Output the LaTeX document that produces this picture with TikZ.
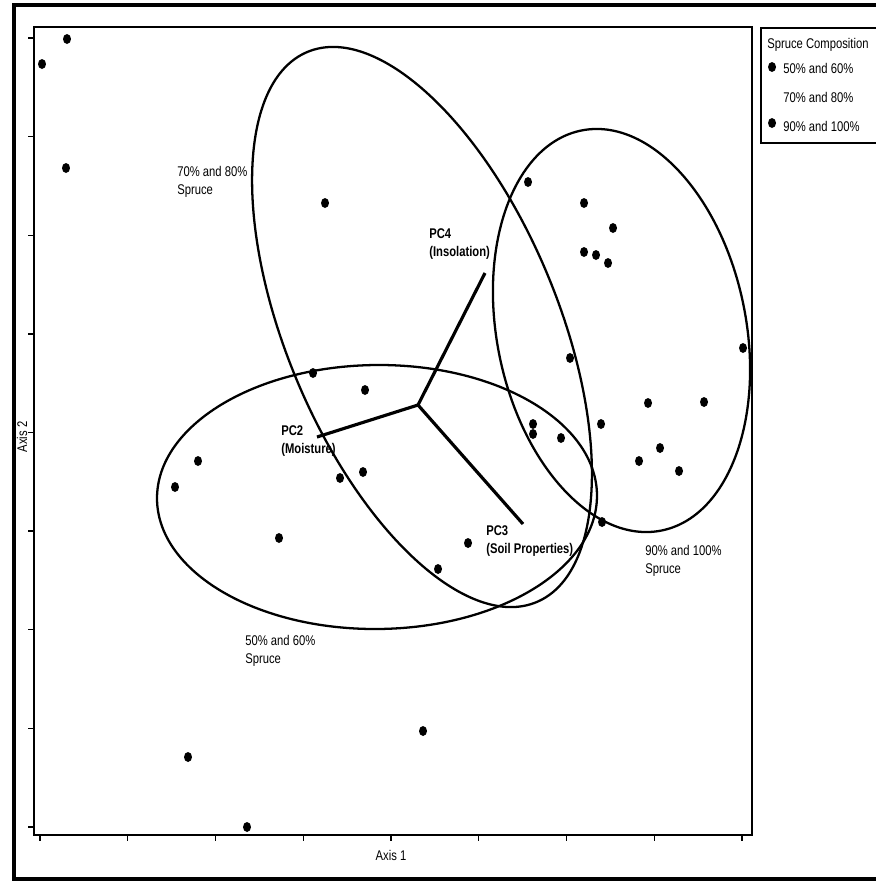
\documentclass[tikz,border=0pt]{standalone}
\usepackage{fontspec}
\setmainfont[FakeStretch=0.8]{Liberation Sans}
\usetikzlibrary{shapes.geometric}
\tikzset{
  dot/.style={ellipse,fill,inner sep=0pt,minimum width=0.16cm,minimum height=0.2cm},
  lbl/.style={anchor=north west,inner sep=0pt,align=left,font=\fontsize{8}{10.2}\selectfont},
  pclbl/.style={lbl,font=\fontsize{8}{10.2}\selectfont\bfseries},
  grp/.style={line width=1.3pt},
  pcline/.style={line width=1.8pt,line join=round},
  tick/.style={line width=0.8pt}
}
\begin{document}
\begin{tikzpicture}[x=0.02cm,y=-0.02cm]
  \useasboundingbox (0,0) rectangle (876,883);
  % frames
  \draw[line width=2.3pt] (876,5) -- (14,5) -- (14,879) -- (876,879);
  \draw[line width=1.1pt] (34,27) rectangle (752,835);
  \draw[tick] (876,28) -- (761,28) -- (761,143) -- (876,143);
  \foreach \i in {0,...,8} {
    \draw[tick] (28,{38+98.6*\i}) -- (34,{38+98.6*\i});
    \draw[tick] ({40+87.75*\i},835) -- ({40+87.75*\i},841);
  }
  \node[lbl,anchor=center] (ax1) at (391,855) {Axis 1};
  \node[lbl,anchor=center,rotate=90] (ax2) at (22,437) {Axis 2};

  % legend
  \node[lbl] (legt) at (767,38) {Spruce Composition};
  \node[dot] (k1) at (772,67) {};
  \node[lbl] (leg1) at (783,63) {50\% and 60\%};
  \node[lbl] (leg2) at (783,92) {70\% and 80\%};
  \node[dot] (k3) at (772,123) {};
  \node[lbl] (leg3) at (783,121) {90\% and 100\%};

  % group ellipses
  \draw[grp,rotate around={-67.4:(422,327)}] (422,327) ellipse (298 and 136);
  \draw[grp,rotate around={-78.7:(621.5,330.5)}] (621.5,330.5) ellipse (204 and 124.6);
  \draw[grp,rotate around={0.5:(377,497)}] (377,497) ellipse (220 and 132);

  % biplot
  \coordinate (ctr) at (418,405);
  \coordinate (pc4) at (485,273);
  \coordinate (pc2) at (317,437);
  \coordinate (pc3) at (523,524);
  \draw[pcline] (pc2) -- (ctr) -- (pc4);
  \draw[pcline] (ctr) -- (pc3);

  % plots
  \foreach \x/\y [count=\n] in {67/39, 42/64, 66/168, 325/203, 528/182, 584/203,
      613/228, 584/252, 596/255, 608/263, 570/358, 743/348, 648/403, 704/402,
      533/424, 533/434, 561/438, 601/424, 660/448, 639/461, 679/471, 602/522,
      313/373, 365/390, 198/461, 175/487, 279/538, 340/478, 363/472, 468/543,
      438/569, 423/731, 188/757, 247/827}
    \node[dot] (d\n) at (\x,\y) {};

  % labels
  \node[lbl] (g78) at (177,166) {70\% and 80\%\\Spruce};
  \node[lbl] (g56) at (245,635) {50\% and 60\%\\Spruce};
  \node[lbl] (g90) at (645,545) {90\% and 100\%\\Spruce};
  \node[pclbl] (l4) at (429,228) {PC4\\(Insolation)};
  \node[pclbl] (l2) at (281,425) {PC2\\(Moisture)};
  \node[pclbl] (l3) at (486,525) {PC3\\(Soil Properties)};
\end{tikzpicture}
\end{document}
